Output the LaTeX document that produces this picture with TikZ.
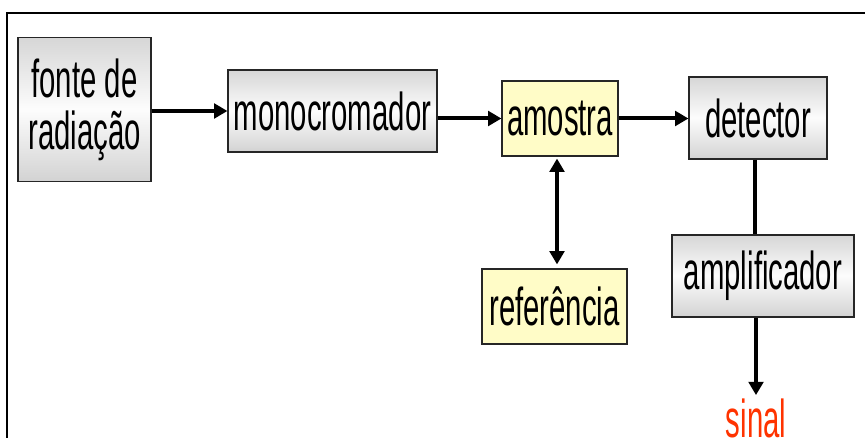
\documentclass[tikz,border=0pt]{standalone}
\usepackage{fontspec}
\setmainfont[FakeStretch=0.55]{Liberation Sans}
\usetikzlibrary{arrows.meta}
\definecolor{vermelho}{RGB}{255,51,0}

\begin{document}
\begin{tikzpicture}[x=0.75pt,y=-0.75pt,
    >={Triangle[length=10pt,width=11pt]},
    caixa/.style={draw=black!85,line width=0.9pt,inner sep=0pt,align=center,
      font=\fontsize{40}{39}\selectfont},
    cinza/.style={caixa,top color=gray!32,bottom color=gray!35,middle color=gray!2},
    amarela/.style={caixa,fill=yellow!22},
    seta/.style={line width=3pt,->}]
  \useasboundingbox (0,0) rectangle (865,438);
  \clip (0,0) rectangle (865,438);
  % moldura
  \draw[line width=1.6pt] (7,450) -- (7,13) -- (880,13);
  % blocos
  \node[cinza,minimum width=99.75pt,minimum height=108pt] (fonte) at (84.5,109.5) {fonte de\\radiação};
  \node[cinza,minimum width=156.75pt,minimum height=61.5pt] (mono) at (332.5,111) {monocromador};
  \node[amarela,minimum width=87pt,minimum height=56.25pt] (amostra) at (560,118.5) {amostra};
  \node[cinza,minimum width=103.5pt,minimum height=61.5pt] (detector) at (758,118) {detector};
  \node[amarela,minimum width=108.75pt,minimum height=56.25pt] (ref) at (554.5,306.5) {referência};
  \node[cinza,minimum width=136.5pt,minimum height=61.5pt] (amplificador) at (763,276) {amplificador};
  \node[text=vermelho,inner sep=0pt,anchor=base,font=\fontsize{40}{39}\selectfont] (sinal) at (756,438) {sinal};
  % ligacoes
  \draw[seta] (mono.west -| fonte.east) -- (mono.west);
  \draw[seta] (amostra.west -| mono.east) -- (amostra.west);
  \draw[seta] (amostra.east) -- (amostra.east -| detector.west);
  \draw[seta,<->,shorten <=1.5pt,shorten >=3pt] (amostra.south -| 557,0) -- (ref.north -| 557,0);
  \draw[line width=2.4pt] (detector.south -| 755,0) -- (amplificador.north -| 755,0);
  \draw[seta,shorten >=3pt] (sinal.north |- amplificador.south) -- (sinal.north);
\end{tikzpicture}
\end{document}
